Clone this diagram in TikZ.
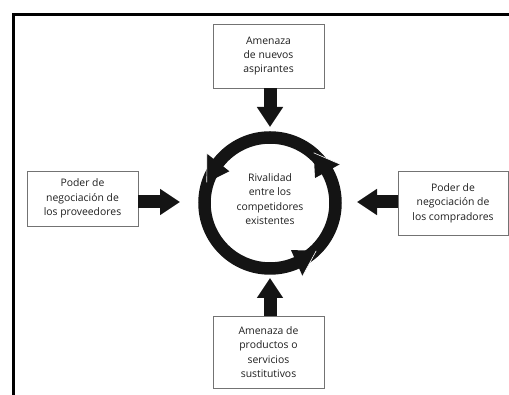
\documentclass[tikz,border=0pt]{standalone}
\usepackage{fontspec}
\setmainfont{Open Sans}
\usetikzlibrary{arrows.meta,calc}
\begin{document}
\begin{tikzpicture}[x=1pt,y=1pt,
  forcebox/.style={draw=black!55, line width=0.8pt, fill=white, align=center,
    inner sep=0pt, text=black!88, font=\fontsize{10.4}{14.4}\selectfont},
  blockarrow/.style={line width=13pt, black!92,
    -{Triangle[length=20pt 0 0, width=25pt 0 0]}},
  seam/.style={white, line width=0.6pt}]
\useasboundingbox (0,0) rectangle (509,395);
% frame
\draw[line width=3.6pt] (13.5,0) -- (13.5,380.5) -- (509,380.5);
% boxes
\node[forcebox, minimum width=111pt, minimum height=64pt] (top) at (268.5,339)
  {Amenaza\\de nuevos\\aspirantes};
\node[forcebox, minimum width=111pt, minimum height=55pt] (left) at (82.5,196.5)
  {Poder de\\negociación de\\los proveedores};
\node[forcebox, minimum width=110pt, minimum height=64pt] (right) at (453,192)
  {Poder de\\negociación de\\los compradores};
\node[forcebox, minimum width=111pt, minimum height=72pt] (bottom) at (268.5,43)
  {Amenaza de\\productos o\\servicios\\sustitutivos};
% ring
\coordinate (C) at (270,192);
\draw[line width=12.5pt, black!92] (C) circle[radius=65.5];
\foreach \t in {49,162,314}{
  \begin{scope}[shift={(C)}, rotate=\t]
    \fill[black!92] (-20:80) -- (0:66.5) -- (-20:51.5) -- cycle;
    \draw[seam] (-20:80) -- (0:66.5);
  \end{scope}
}
\node[align=center, text=black!88, font=\fontsize{10.4}{14.4}\selectfont] (rival) at (270,196)
  {Rivalidad\\entre los\\competidores\\existentes};
% block arrows
\coordinate (ttip) at (270,268);
\coordinate (btip) at (270,117);
\coordinate (ltip) at (180,193);
\coordinate (rtip) at (357,193);
\draw[blockarrow] (ttip |- top.south) -- (ttip);
\draw[blockarrow] (btip |- bottom.north) -- (btip);
\draw[blockarrow] (left.east |- ltip) -- (ltip);
\draw[blockarrow] (right.west |- rtip) -- (rtip);
\end{tikzpicture}
\end{document}
